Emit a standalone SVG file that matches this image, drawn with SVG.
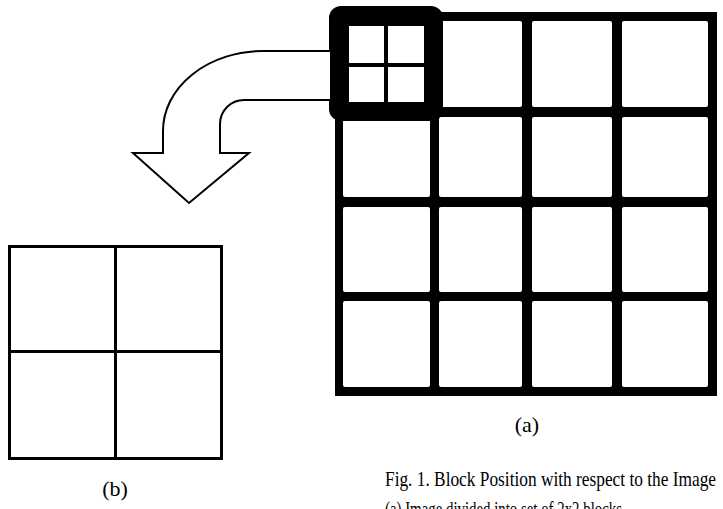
<svg xmlns="http://www.w3.org/2000/svg" width="723" height="509" viewBox="0 0 723 509">
<style>
.cell{fill:#fff}
.ln{fill:none;stroke:#000;stroke-width:3}
.arrow{fill:#fff;stroke:#000;stroke-width:2;stroke-linejoin:miter}
.t{font-family:"Liberation Serif","Times New Roman",serif;fill:#000}
</style>
<rect width="723" height="509" fill="#fff"/>
<g id="image-grid">
<rect x="335" y="12" width="382" height="384" fill="#000"/>
<g class="cell">
<rect x="343" y="21" width="87" height="86" rx="2"/>
<rect x="439" y="21" width="83" height="86" rx="2"/>
<rect x="532" y="21" width="80" height="86" rx="2"/>
<rect x="622" y="21" width="86" height="86" rx="2"/>
<rect x="343" y="117" width="87" height="80" rx="2"/>
<rect x="439" y="117" width="83" height="80" rx="2"/>
<rect x="532" y="117" width="80" height="80" rx="2"/>
<rect x="622" y="117" width="86" height="80" rx="2"/>
<rect x="343" y="207" width="87" height="85" rx="2"/>
<rect x="439" y="207" width="83" height="85" rx="2"/>
<rect x="532" y="207" width="80" height="85" rx="2"/>
<rect x="622" y="207" width="86" height="85" rx="2"/>
<rect x="343" y="301" width="87" height="86" rx="2"/>
<rect x="439" y="301" width="83" height="86" rx="2"/>
<rect x="532" y="301" width="80" height="86" rx="2"/>
<rect x="622" y="301" width="86" height="86" rx="2"/>
</g>
</g>
<g id="highlight-block">
<rect x="329" y="6" width="114" height="115" rx="12" fill="#000"/>
<rect x="349" y="26" width="35" height="37" fill="#fff"/>
<rect x="388" y="26" width="36" height="37" fill="#fff"/>
<rect x="349" y="67" width="35" height="35" fill="#fff"/>
<rect x="388" y="67" width="36" height="35" fill="#fff"/>
</g>
<g id="connectors">
<path class="arrow" d="M330,51 H263 A100,80 0 0 0 163,131 V153 H133 L189,203 L249,153 H220 V124 A24,24 0 0 1 244,100 H330"/>
</g>
<g id="block-b">
<rect class="ln" x="9.5" y="246.5" width="212" height="212"/>
<line class="ln" x1="115.5" y1="246.5" x2="115.5" y2="458.5"/>
<line class="ln" x1="9.5" y1="351.5" x2="221.5" y2="351.5"/>
</g>
<g id="labels">
<text class="t" x="527" y="432" font-size="22" text-anchor="middle">(a)</text>
<text class="t" x="115" y="496" font-size="22" text-anchor="middle">(b)</text>
<text class="t" x="385" y="486" font-size="21" textLength="331" lengthAdjust="spacingAndGlyphs">Fig. 1. Block Position with respect to the Image</text>
<text class="t" x="385" y="516" font-size="21" textLength="237" lengthAdjust="spacingAndGlyphs">(a) Image divided into set of 2x2 blocks</text>
</g>
</svg>
